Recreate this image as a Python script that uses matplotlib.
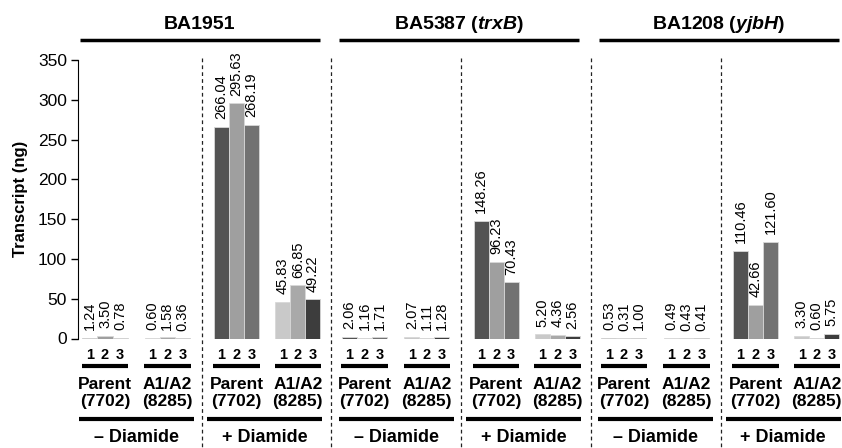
import matplotlib
matplotlib.use('Agg')
import matplotlib.pyplot as plt

plt.rcParams['font.family'] = 'Liberation Sans'
plt.rcParams['mathtext.fontset'] = 'custom'
plt.rcParams['mathtext.bfit'] = 'Liberation Sans:italic:bold'

# values: [parent, A1/A2] x replicates 1-3
genes = ['BA1951', r'BA5387 ($\mathbfit{trxB}$)', r'BA1208 ($\mathbfit{yjbH}$)']
ba1951_minus = [[1.24, 3.50, 0.78], [0.60, 1.58, 0.36]]
ba1951_plus = [[266.04, 295.63, 268.19], [45.83, 66.85, 49.22]]
ba5387_minus = [[2.06, 1.16, 1.71], [2.07, 1.11, 1.28]]
ba5387_plus = [[148.26, 96.23, 70.43], [5.20, 4.36, 2.56]]
ba1208_minus = [[0.53, 0.31, 1.00], [0.49, 0.43, 0.41]]
ba1208_plus = [[110.46, 42.66, 121.60], [3.30, 0.60, 5.75]]
replicates = ['1', '2', '3']
strains = ['Parent\n(7702)', 'A1/A2\n(8285)']
conditions = ['\u2013 Diamide', '+ Diamide']

data = [(ba1951_minus, ba1951_plus), (ba5387_minus, ba5387_plus), (ba1208_minus, ba1208_plus)]
colors = [['#535353', '#9f9f9f', '#727272'], ['#c9c9c9', '#a9a9a9', '#3d3d3d']]

fig = plt.figure(figsize=(8.42, 4.48), dpi=100)
ax = fig.add_axes([78 / 842, 1 - 338.5 / 448, 764 / 842, 278.5 / 448])

def ay(py):
    # pixel row -> axes fraction
    return (338.5 - py) / 278.5

tr = ax.get_xaxis_transform()
sec_step = 4.023
offsets = [[0, 0.966], [2.04, 2.99]]
w = 0.2326

for s, gene in enumerate(genes):
    base = s * sec_step
    for c, cond in enumerate(data[s]):
        for k, vals in enumerate(cond):
            center = base + offsets[c][k]
            for j, v in enumerate(vals):
                x = center + (j - 1) * w
                ax.bar(x, v, width=w, color=colors[k][j], edgecolor='#d8d8d8', linewidth=0.6)
                ax.annotate(f'{v:.2f}', (x, v), xytext=(0, 5.5), textcoords='offset points',
                            rotation=90, ha='center', va='bottom', fontsize=10.5)
                ax.text(x, ay(355), replicates[j], transform=tr, ha='center', va='center',
                        fontsize=10.5, fontweight='bold')
            ax.plot([center - 0.36, center + 0.36], [ay(366)] * 2, transform=tr, clip_on=False,
                    color='black', lw=3, solid_capstyle='butt')
            ax.text(center, ay(393), strains[k], transform=tr, ha='center', va='center',
                    fontsize=12.5, fontweight='bold', linespacing=1.15)
        x0 = base + offsets[c][0] - (0.40 if c == 0 else 0.46)
        x1 = base + offsets[c][1] + (0.42 if c == 0 else 0.37)
        ax.plot([x0, x1], [ay(419)] * 2, transform=tr, clip_on=False,
                color='black', lw=3, solid_capstyle='butt')
        ax.text((x0 + x1) / 2, ay(438), conditions[c], transform=tr, ha='center', va='center',
                fontsize=13, fontweight='bold')
    # dashed separators
    for xd in [base + 1.503, base + 3.506]:
        if xd > 11.2:
            continue
        ax.plot([xd, xd], [ay(58), ay(448)], transform=tr, clip_on=False,
                color='#222222', lw=0.9, dashes=(3, 2.5))
    # gene header
    t0, t1 = base - 0.39, base + 3.33
    ax.plot([t0, t1], [ay(40)] * 2, transform=tr, clip_on=False,
            color='black', lw=2.5, solid_capstyle='butt')
    ax.text((t0 + t1) / 2, ay(24), gene, transform=tr, ha='center', va='center',
            fontsize=14, fontweight='bold')

ax.set_xlim(-0.4186, 11.426)
ax.set_ylim(0, 350)
ax.set_yticks(range(0, 351, 50))
ax.tick_params(axis='y', labelsize=12.5, length=5, width=1, pad=3)
ax.tick_params(axis='x', bottom=False, labelbottom=False)
for sp in ['top', 'right', 'bottom']:
    ax.spines[sp].set_visible(False)
ax.set_ylabel('Transcript (ng)', fontsize=12, fontweight='bold')
ax.yaxis.set_label_coords(-0.066, 0.5)

fig.savefig('out.png', dpi=100)
